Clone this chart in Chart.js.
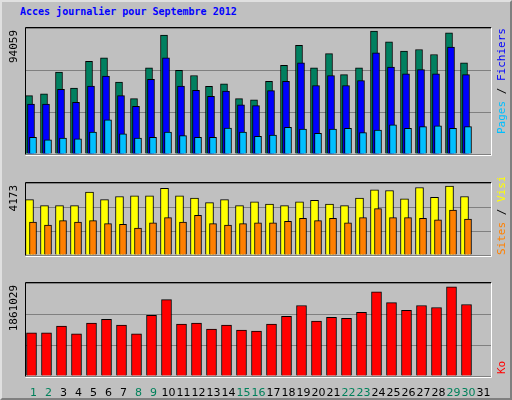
<!DOCTYPE html>
<html>
<head>
<meta charset="utf-8">
<script src="https://cdn.jsdelivr.net/npm/chart.js@4"></script>
<style>
  body { margin: 0; }
  #frame { position: relative; width: 508px; height: 396px; background: #c0c0c0; border: 2px solid #808080; border-top-color: #e0e0e0; border-left-color: #e0e0e0; }
  #titre { position: absolute; left: 18px; top: 4px; font: bold 10px "DejaVu Sans Mono", monospace; color: #0000ff; }
  .boite { position: absolute; left: -2px; width: 512px; }
</style>
</head>
<body>
<div id="frame">
  <div id="titre">Acces journalier pour Septembre 2012</div>
  <div class="boite" style="top:20px;height:156px"><canvas id="c1"></canvas></div>
  <div class="boite" style="top:175px;height:102px"><canvas id="c2"></canvas></div>
  <div class="boite" style="top:275px;height:121px"><canvas id="c3"></canvas></div>
</div>
<script>
// Jours du mois (31 affiché, sans données)
const jours = ['1','2','3','4','5','6','7','8','9','10','11','12','13','14','15','16','17','18','19','20','21','22','23','24','25','26','27','28','29','30','31'];
const weekend = ['1','2','8','9','15','16','22','23','29','30'];

const hits = [43600,44850,61120,49230,69250,71760,53610,41300,64250,88860,62370,58620,50480,52360,41300,40470,54240,66130,81150,64250,74890,59240,64250,91780,83650,76760,78020,74260,90530,68000];
const fichiers = [37340,37340,48190,38590,50690,58200,43600,35670,55700,71760,50690,47560,42970,46940,36710,36090,47350,54240,68000,51110,58620,51110,54860,75510,64870,59870,63000,59870,79890,59240];
const pages = [12520,10640,11890,11260,16270,25450,15020,11890,12520,16270,13770,12520,12520,19400,16270,13140,14180,19820,18570,15440,18570,19190,16060,17940,21690,19190,20440,21070,19190,20440];

const visites = [3213,2864,2864,2864,3650,3213,3388,3431,3431,3868,3431,3301,3039,3213,2864,3082,2952,2864,3082,3170,2952,2864,3301,3780,3737,3257,3911,3344,3999,3388];
const sites = [1905,1730,1992,1905,1992,1818,1774,1556,1861,2166,1905,2297,1818,1730,1818,1861,1861,1948,2123,1992,2123,1861,2166,2690,2166,2166,2123,2036,2603,2079];

const ko = [861960,861960,999090,842370,1057860,1136220,1018680,842370,1214580,1528020,1038270,1057860,940320,1018680,920730,901140,1038270,1194990,1410480,1097040,1175400,1155810,1273350,1684740,1469250,1312530,1410480,1371300,1782690,1430070];

// Maxima affichés à gauche
const maxLabels = ['94059', '4173', '1861029'];
const maxima = [94059, 4173, 1861029];

const police = '"DejaVu Sans Mono", monospace';

// décale les barres pour les faire se chevaucher comme dans awstats
const decalage = {
    id: 'decalage',
    afterDatasetsUpdate(chart) {
        chart.data.datasets.forEach((ds, i) => {
            chart.getDatasetMeta(i).data.forEach(el => { el.x += ds.shift; });
        });
    }
};

// cadre, valeur max à gauche et légende à droite
const decor = {
    id: 'decor',
    beforeDatasetsDraw(chart) {
        const a = chart.chartArea, ctx = chart.ctx;
        ctx.save();
        ctx.lineWidth = 1;
        ctx.strokeStyle = '#000';
        ctx.beginPath();
        ctx.moveTo(a.left - 0.5, a.bottom + 0.5); ctx.lineTo(a.left - 0.5, a.top - 0.5); ctx.lineTo(a.right + 0.5, a.top - 0.5);
        ctx.stroke();
        ctx.strokeStyle = '#fff';
        ctx.beginPath();
        ctx.moveTo(a.right + 0.5, a.top - 0.5); ctx.lineTo(a.right + 0.5, a.bottom + 1.5); ctx.lineTo(a.left - 0.5, a.bottom + 1.5);
        ctx.stroke();
        ctx.restore();
    },
    afterDraw(chart) {
        const a = chart.chartArea, ctx = chart.ctx, o = chart.options.plugins.decor;
        ctx.save();
        ctx.font = '11px ' + police;
        ctx.fillStyle = '#000';
        ctx.translate(14, a.top + 2);
        ctx.rotate(-Math.PI / 2);
        ctx.textAlign = 'right';
        ctx.textBaseline = 'middle';
        ctx.fillText(o.max, 0, 0);
        ctx.restore();

        ctx.save();
        ctx.font = '11px ' + police;
        ctx.translate(502, a.bottom - o.bas);
        ctx.rotate(-Math.PI / 2);
        ctx.textBaseline = 'middle';
        let x = 0;
        o.legende.forEach(([t, c]) => {
            ctx.fillStyle = c;
            ctx.fillText(t, x, 0);
            x += ctx.measureText(t).width;
        });
        ctx.restore();
    }
};

function panneau(id, datasets, i, legende, bas, axeX) {
    const max = maxima[i];
    return new Chart(document.getElementById(id), {
        type: 'bar',
        data: { labels: jours, datasets },
        plugins: [decalage, decor],
        options: {
            responsive: true,
            maintainAspectRatio: false,
            animation: false,
            layout: { padding: { left: 26, right: 21, top: 6, bottom: axeX ? 0 : 2 } },
            plugins: {
                legend: { display: false },
                tooltip: { enabled: false },
                decor: { max: maxLabels[i], legende, bas }
            },
            scales: {
                x: {
                    display: axeX,
                    grid: { display: false },
                    border: { display: false },
                    ticks: {
                        font: { family: 'DejaVu Sans', size: 11 },
                        color: c => weekend.includes(jours[c.index]) ? '#00805a' : '#000',
                        maxRotation: 0, autoSkip: false, padding: 3
                    },
                    afterFit: s => { s.height = 22; }
                },
                y: {
                    min: 0, max,
                    ticks: { display: false, stepSize: max / 3 },
                    grid: { color: '#808080', drawTicks: false },
                    border: { display: false },
                    afterFit: s => { s.width = 0; }
                }
            }
        }
    });
}

const barre = (data, couleur, largeur, shift, order) => ({
    data, backgroundColor: couleur, borderColor: '#000', borderWidth: 1,
    barThickness: largeur, grouped: false, shift, order
});

panneau('c1', [
    barre(hits, '#008060', 7, -4.5, 3),
    barre(fichiers, '#0000ff', 7, -2.5, 2),
    barre(pages, '#00bfff', 7, -0.5, 1)
], 0, [['Pages', '#00bfff'], [' / ', '#000'], ['Fichiers', '#0000ff'], [' / ', '#000'], ['Hits', '#008060']], 20, false);

panneau('c2', [
    barre(visites, '#ffff00', 8, -4, 2),
    barre(sites, '#ff8000', 7, -0.5, 1)
], 1, [['Sites', '#ff8000'], [' / ', '#000'], ['Visites', '#ffff00']], 0, false);

panneau('c3', [
    barre(ko, '#ff0000', 10, -2, 1)
], 2, [['Ko', '#ff0000']], 2, true);
</script>
</body>
</html>
